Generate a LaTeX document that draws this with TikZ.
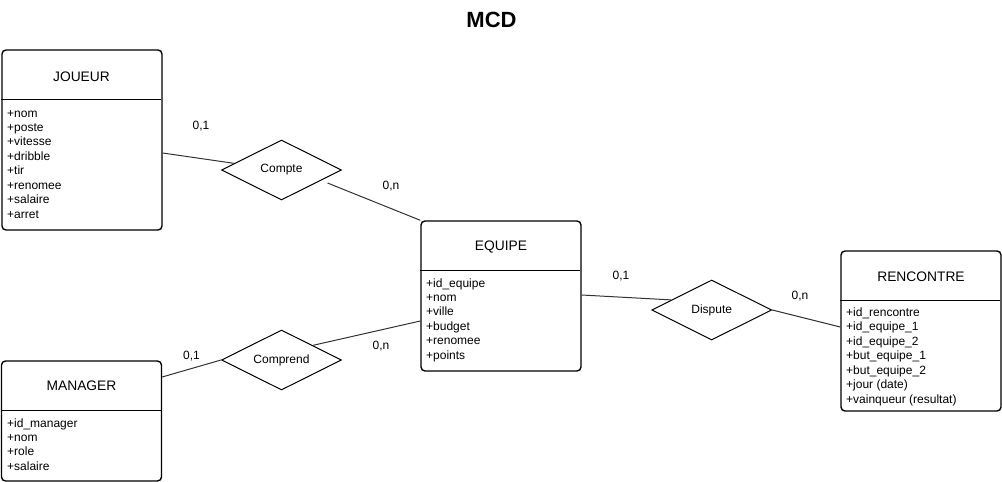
\documentclass[tikz,border=0pt]{standalone}
\usepackage{fontspec}
\setmainfont{Liberation Sans}
\usetikzlibrary{shapes.geometric}
\tikzset{
  entity/.style={draw=black, line width=1.4pt, rounded corners=4pt, fill=white, minimum width=160pt, inner sep=0pt},
  relation/.style={draw=black, line width=1pt, shape=diamond, aspect=2, minimum width=120pt, minimum height=60pt, inner sep=0pt, fill=white, font=\fontsize{12}{14}\selectfont},
  divider/.style={draw=black, line width=1.4pt},
  etitle/.style={font=\fontsize{13.8}{16}\selectfont, anchor=base, inner sep=0pt},
  attr/.style={font=\fontsize{12}{14}\selectfont, anchor=base west, inner sep=0pt},
  card/.style={font=\fontsize{12}{14}\selectfont, inner sep=0pt},
  link/.style={draw=black!80, line width=1pt},
  heading/.style={font=\fontsize{22}{25}\selectfont\bfseries, inner sep=0pt}
}
\begin{document}
\begin{tikzpicture}[x=1pt,y=-1pt]
\useasboundingbox (0,0) rectangle (1002,482);

\node[heading] (mcd) at (491.5,19.5) {MCD};

% entities
\node[entity, minimum height=180pt] (joueur) at (82,140) {};
\node[entity, minimum height=150pt] (equipe) at (501,296) {};
\node[entity, minimum height=160pt] (rencontre) at (921,331) {};
\node[entity, minimum height=120pt] (manager) at (81.5,421) {};

\draw[divider] (joueur.north west) ++(0,50) -- ++(160,0);
\draw[divider] (equipe.north west) ++(0,50) -- ++(160,0);
\draw[divider] (rencontre.north west) ++(0,50) -- ++(160,0);
\draw[divider] (manager.north west) ++(0,50) -- ++(160,0);

\node[etitle] (tj) at (81.5,81) {JOUEUR};
\node[etitle] (te) at (501,250.5) {EQUIPE};
\node[etitle] (tr) at (921,281.5) {RENCONTRE};
\node[etitle] (tm) at (81.5,390.5) {MANAGER};

\foreach \t [count=\i] in {+nom,+poste,+vitesse,+dribble,+tir,+renomee,+salaire,+arret}
  \node[attr] (ja\i) at (7,{117+14.43*(\i-1)}) {\t};
\foreach \t [count=\i] in {+id\_equipe,+nom,+ville,+budget,+renomee,+points}
  \node[attr] (ea\i) at (426,{287+14.43*(\i-1)}) {\t};
\foreach \t [count=\i] in {+id\_rencontre,+id\_equipe\_1,+id\_equipe\_2,+but\_equipe\_1,+but\_equipe\_2,+jour (date),+vainqueur (resultat)}
  \node[attr] (ra\i) at (846,{316.5+14.43*(\i-1)}) {\t};
\foreach \t [count=\i] in {+id\_manager,+nom,+role,+salaire}
  \node[attr] (ma\i) at (7,{427+14.43*(\i-1)}) {\t};

% relations
\node[relation] (compte) at (281.5,170) {Compte};
\node[relation] (comprend) at (281.5,360) {Comprend};
\node[relation] (dispute) at (711.7,310) {Dispute};

% connectors
\draw[link] ([yshift=-13pt]joueur.east) -- (compte.172);
\draw[link] ([shift={(46,13)}]compte.center) -- (equipe.north west);
\draw[link] ([yshift=44pt]manager.east) -- (comprend.west);
\draw[link] (comprend.25) -- ([yshift=-25pt]equipe.west);
\draw[link] ([yshift=1pt]equipe.east) -- (dispute.166);
\draw[link] (dispute.east) -- ([yshift=4pt]rencontre.west);

% cardinalities
\node[card] (c1) at (201,126) {0,1};
\node[card] (c2) at (391,186) {0,n};
\node[card] (c3) at (191.5,356) {0,1};
\node[card] (c4) at (381,346) {0,n};
\node[card] (c5) at (621,276) {0,1};
\node[card] (c6) at (800,296) {0,n};
\end{tikzpicture}
\end{document}
